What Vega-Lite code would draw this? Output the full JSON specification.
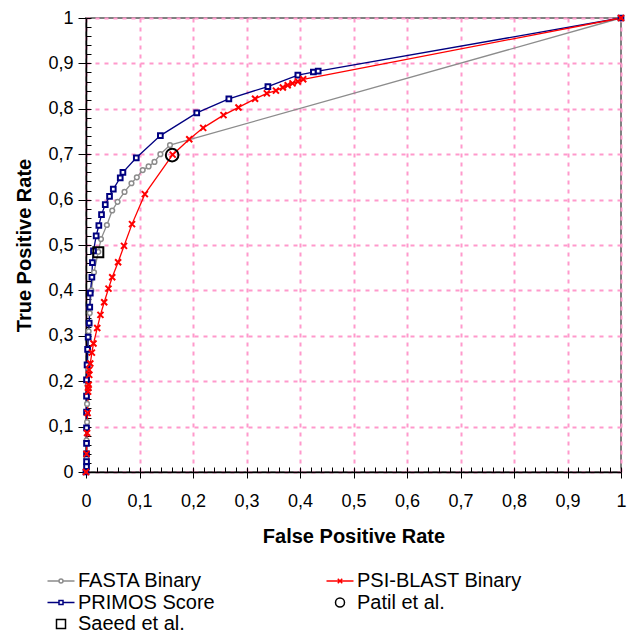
{
  "$schema": "https://vega.github.io/schema/vega-lite/v6.json",
  "width": 535,
  "height": 454,
  "autosize": "none",
  "padding": {"left": 86, "top": 18, "right": 20, "bottom": 162},
  "config": {"view": {"stroke": "#808080", "strokeWidth": 2}, "font": "Liberation Sans"},
  "datasets": {
    "curves": [
      {"series": "FASTA Binary", "ord": 0, "fpr": 0, "tpr": 0},
      {"series": "FASTA Binary", "ord": 1, "fpr": 0.001, "tpr": 0.03},
      {"series": "FASTA Binary", "ord": 2, "fpr": 0.001, "tpr": 0.07},
      {"series": "FASTA Binary", "ord": 3, "fpr": 0.002, "tpr": 0.11},
      {"series": "FASTA Binary", "ord": 4, "fpr": 0.002, "tpr": 0.15},
      {"series": "FASTA Binary", "ord": 5, "fpr": 0.003, "tpr": 0.19},
      {"series": "FASTA Binary", "ord": 6, "fpr": 0.003, "tpr": 0.23},
      {"series": "FASTA Binary", "ord": 7, "fpr": 0.004, "tpr": 0.27},
      {"series": "FASTA Binary", "ord": 8, "fpr": 0.005, "tpr": 0.31},
      {"series": "FASTA Binary", "ord": 9, "fpr": 0.007, "tpr": 0.35},
      {"series": "FASTA Binary", "ord": 10, "fpr": 0.010, "tpr": 0.40},
      {"series": "FASTA Binary", "ord": 11, "fpr": 0.015, "tpr": 0.44},
      {"series": "FASTA Binary", "ord": 12, "fpr": 0.023, "tpr": 0.485},
      {"series": "FASTA Binary", "ord": 13, "fpr": 0.028, "tpr": 0.513},
      {"series": "FASTA Binary", "ord": 14, "fpr": 0.039, "tpr": 0.544},
      {"series": "FASTA Binary", "ord": 15, "fpr": 0.049, "tpr": 0.576},
      {"series": "FASTA Binary", "ord": 16, "fpr": 0.059, "tpr": 0.595},
      {"series": "FASTA Binary", "ord": 17, "fpr": 0.072, "tpr": 0.617},
      {"series": "FASTA Binary", "ord": 18, "fpr": 0.085, "tpr": 0.636},
      {"series": "FASTA Binary", "ord": 19, "fpr": 0.095, "tpr": 0.649},
      {"series": "FASTA Binary", "ord": 20, "fpr": 0.106, "tpr": 0.665},
      {"series": "FASTA Binary", "ord": 21, "fpr": 0.117, "tpr": 0.673},
      {"series": "FASTA Binary", "ord": 22, "fpr": 0.128, "tpr": 0.683},
      {"series": "FASTA Binary", "ord": 23, "fpr": 0.139, "tpr": 0.700},
      {"series": "FASTA Binary", "ord": 24, "fpr": 0.157, "tpr": 0.720},
      {"series": "FASTA Binary", "ord": 25, "fpr": 1, "tpr": 1},
      {"series": "PRIMOS Score", "ord": 0, "fpr": 0, "tpr": 0},
      {"series": "PRIMOS Score", "ord": 1, "fpr": 0.001, "tpr": 0.012},
      {"series": "PRIMOS Score", "ord": 2, "fpr": 0.001, "tpr": 0.023},
      {"series": "PRIMOS Score", "ord": 3, "fpr": 0.001, "tpr": 0.040},
      {"series": "PRIMOS Score", "ord": 4, "fpr": 0.001, "tpr": 0.063},
      {"series": "PRIMOS Score", "ord": 5, "fpr": 0.001, "tpr": 0.097},
      {"series": "PRIMOS Score", "ord": 6, "fpr": 0.001, "tpr": 0.132},
      {"series": "PRIMOS Score", "ord": 7, "fpr": 0.001, "tpr": 0.167},
      {"series": "PRIMOS Score", "ord": 8, "fpr": 0.001, "tpr": 0.203},
      {"series": "PRIMOS Score", "ord": 9, "fpr": 0.002, "tpr": 0.236},
      {"series": "PRIMOS Score", "ord": 10, "fpr": 0.003, "tpr": 0.270},
      {"series": "PRIMOS Score", "ord": 11, "fpr": 0.004, "tpr": 0.297},
      {"series": "PRIMOS Score", "ord": 12, "fpr": 0.006, "tpr": 0.328},
      {"series": "PRIMOS Score", "ord": 13, "fpr": 0.007, "tpr": 0.363},
      {"series": "PRIMOS Score", "ord": 14, "fpr": 0.008, "tpr": 0.394},
      {"series": "PRIMOS Score", "ord": 15, "fpr": 0.011, "tpr": 0.429},
      {"series": "PRIMOS Score", "ord": 16, "fpr": 0.012, "tpr": 0.461},
      {"series": "PRIMOS Score", "ord": 17, "fpr": 0.014, "tpr": 0.487},
      {"series": "PRIMOS Score", "ord": 18, "fpr": 0.019, "tpr": 0.520},
      {"series": "PRIMOS Score", "ord": 19, "fpr": 0.024, "tpr": 0.543},
      {"series": "PRIMOS Score", "ord": 20, "fpr": 0.029, "tpr": 0.567},
      {"series": "PRIMOS Score", "ord": 21, "fpr": 0.036, "tpr": 0.589},
      {"series": "PRIMOS Score", "ord": 22, "fpr": 0.044, "tpr": 0.607},
      {"series": "PRIMOS Score", "ord": 23, "fpr": 0.051, "tpr": 0.623},
      {"series": "PRIMOS Score", "ord": 24, "fpr": 0.064, "tpr": 0.648},
      {"series": "PRIMOS Score", "ord": 25, "fpr": 0.069, "tpr": 0.660},
      {"series": "PRIMOS Score", "ord": 26, "fpr": 0.094, "tpr": 0.692},
      {"series": "PRIMOS Score", "ord": 27, "fpr": 0.139, "tpr": 0.741},
      {"series": "PRIMOS Score", "ord": 28, "fpr": 0.207, "tpr": 0.791},
      {"series": "PRIMOS Score", "ord": 29, "fpr": 0.267, "tpr": 0.822},
      {"series": "PRIMOS Score", "ord": 30, "fpr": 0.340, "tpr": 0.849},
      {"series": "PRIMOS Score", "ord": 31, "fpr": 0.396, "tpr": 0.874},
      {"series": "PRIMOS Score", "ord": 32, "fpr": 0.425, "tpr": 0.881},
      {"series": "PRIMOS Score", "ord": 33, "fpr": 0.434, "tpr": 0.883},
      {"series": "PRIMOS Score", "ord": 34, "fpr": 1, "tpr": 1},
      {"series": "PSI-BLAST Binary", "ord": 0, "fpr": 0, "tpr": 0},
      {"series": "PSI-BLAST Binary", "ord": 1, "fpr": 0.001, "tpr": 0.04},
      {"series": "PSI-BLAST Binary", "ord": 2, "fpr": 0.002, "tpr": 0.086},
      {"series": "PSI-BLAST Binary", "ord": 3, "fpr": 0.003, "tpr": 0.13},
      {"series": "PSI-BLAST Binary", "ord": 4, "fpr": 0.004, "tpr": 0.177},
      {"series": "PSI-BLAST Binary", "ord": 5, "fpr": 0.004, "tpr": 0.185},
      {"series": "PSI-BLAST Binary", "ord": 6, "fpr": 0.005, "tpr": 0.192},
      {"series": "PSI-BLAST Binary", "ord": 7, "fpr": 0.006, "tpr": 0.214},
      {"series": "PSI-BLAST Binary", "ord": 8, "fpr": 0.006, "tpr": 0.225},
      {"series": "PSI-BLAST Binary", "ord": 9, "fpr": 0.008, "tpr": 0.239},
      {"series": "PSI-BLAST Binary", "ord": 10, "fpr": 0.011, "tpr": 0.263},
      {"series": "PSI-BLAST Binary", "ord": 11, "fpr": 0.014, "tpr": 0.283},
      {"series": "PSI-BLAST Binary", "ord": 12, "fpr": 0.021, "tpr": 0.317},
      {"series": "PSI-BLAST Binary", "ord": 13, "fpr": 0.027, "tpr": 0.346},
      {"series": "PSI-BLAST Binary", "ord": 14, "fpr": 0.034, "tpr": 0.374},
      {"series": "PSI-BLAST Binary", "ord": 15, "fpr": 0.042, "tpr": 0.404},
      {"series": "PSI-BLAST Binary", "ord": 16, "fpr": 0.049, "tpr": 0.429},
      {"series": "PSI-BLAST Binary", "ord": 17, "fpr": 0.060, "tpr": 0.462},
      {"series": "PSI-BLAST Binary", "ord": 18, "fpr": 0.071, "tpr": 0.498},
      {"series": "PSI-BLAST Binary", "ord": 19, "fpr": 0.086, "tpr": 0.546},
      {"series": "PSI-BLAST Binary", "ord": 20, "fpr": 0.110, "tpr": 0.612},
      {"series": "PSI-BLAST Binary", "ord": 21, "fpr": 0.162, "tpr": 0.699},
      {"series": "PSI-BLAST Binary", "ord": 22, "fpr": 0.193, "tpr": 0.733},
      {"series": "PSI-BLAST Binary", "ord": 23, "fpr": 0.219, "tpr": 0.758},
      {"series": "PSI-BLAST Binary", "ord": 24, "fpr": 0.257, "tpr": 0.786},
      {"series": "PSI-BLAST Binary", "ord": 25, "fpr": 0.285, "tpr": 0.803},
      {"series": "PSI-BLAST Binary", "ord": 26, "fpr": 0.316, "tpr": 0.822},
      {"series": "PSI-BLAST Binary", "ord": 27, "fpr": 0.338, "tpr": 0.834},
      {"series": "PSI-BLAST Binary", "ord": 28, "fpr": 0.355, "tpr": 0.840},
      {"series": "PSI-BLAST Binary", "ord": 29, "fpr": 0.368, "tpr": 0.847},
      {"series": "PSI-BLAST Binary", "ord": 30, "fpr": 0.377, "tpr": 0.852},
      {"series": "PSI-BLAST Binary", "ord": 31, "fpr": 0.386, "tpr": 0.856},
      {"series": "PSI-BLAST Binary", "ord": 32, "fpr": 0.396, "tpr": 0.860},
      {"series": "PSI-BLAST Binary", "ord": 33, "fpr": 0.406, "tpr": 0.865},
      {"series": "PSI-BLAST Binary", "ord": 34, "fpr": 1, "tpr": 1}
    ],
    "refs": [
      {"series": "Patil et al.", "fpr": 0.161, "tpr": 0.698},
      {"series": "Saeed et al.", "fpr": 0.023, "tpr": 0.484}
    ]
  },
  "resolve": {"axis": {"x": "independent", "y": "independent"}},
  "layer": [
    {
      "data": {"name": "curves"},
      "transform": [{"filter": "datum.series == 'FASTA Binary'"}],
      "mark": {"type": "line", "strokeWidth": 1.3, "stroke": "#8c8c8c"},
      "encoding": {
        "x": {
          "field": "fpr", "type": "quantitative",
          "scale": {"domain": [0, 1], "nice": false, "zero": false},
          "axis": {
            "values": [0, 0.1, 0.2, 0.3, 0.4, 0.5, 0.6, 0.7, 0.8, 0.9, 1],
            "format": "~g", "labelExpr": "replace(datum.label, '.', ',')",
            "title": "False Positive Rate", "titleFontSize": 20, "titleFontWeight": "bold", "titleColor": "black", "titleFont": "Liberation Sans", "titlePadding": 16,
            "labelFontSize": 18, "labelColor": "black", "labelFont": "Liberation Sans", "labelPadding": 14, "labelFlush": false, "labelOverlap": false,
            "tickSize": 6, "tickColor": "black", "tickWidth": 1,
            "domainColor": "black", "domainWidth": 1.5,
            "grid": true, "gridColor": "#FF99CC", "gridDash": [4, 5], "gridWidth": 2
          }
        },
        "y": {
          "field": "tpr", "type": "quantitative",
          "scale": {"domain": [0, 1], "nice": false, "zero": false},
          "axis": {
            "values": [0, 0.1, 0.2, 0.3, 0.4, 0.5, 0.6, 0.7, 0.8, 0.9, 1],
            "format": "~g", "labelExpr": "replace(datum.label, '.', ',')",
            "title": "True Positive Rate", "titleFontSize": 20, "titleFontWeight": "bold", "titleColor": "black", "titleFont": "Liberation Sans", "titlePadding": 13,
            "labelFontSize": 18, "labelColor": "black", "labelFont": "Liberation Sans", "labelPadding": 5, "labelFlush": false, "labelOverlap": false,
            "tickSize": 8, "tickColor": "black", "tickWidth": 1,
            "domainColor": "black", "domainWidth": 1.5,
            "grid": true, "gridColor": "#FF99CC", "gridDash": [4, 5], "gridWidth": 2
          }
        },
        "order": {"field": "ord", "type": "quantitative"}
      }
    },
    {
      "data": {"name": "curves"},
      "transform": [{"filter": "datum.series == 'PRIMOS Score'"}],
      "mark": {"type": "line", "strokeWidth": 1.3, "stroke": "#000080"},
      "encoding": {
        "x": {"field": "fpr", "type": "quantitative", "axis": null},
        "y": {"field": "tpr", "type": "quantitative", "axis": null},
        "order": {"field": "ord", "type": "quantitative"}
      }
    },
    {
      "data": {"name": "curves"},
      "transform": [{"filter": "datum.series == 'PSI-BLAST Binary'"}],
      "mark": {"type": "line", "strokeWidth": 1.3, "stroke": "#FF0000"},
      "encoding": {
        "x": {"field": "fpr", "type": "quantitative", "axis": null},
        "y": {"field": "tpr", "type": "quantitative", "axis": null},
        "order": {"field": "ord", "type": "quantitative"}
      }
    },
    {
      "data": {"name": "curves"},
      "transform": [{"filter": "datum.series == 'FASTA Binary'"}],
      "mark": {"type": "point", "shape": "circle", "filled": true, "fill": "white", "stroke": "#8c8c8c", "strokeWidth": 1.5, "size": 22, "opacity": 1},
      "encoding": {
        "x": {"field": "fpr", "type": "quantitative", "axis": null},
        "y": {"field": "tpr", "type": "quantitative", "axis": null}
      }
    },
    {
      "data": {"name": "curves"},
      "transform": [{"filter": "datum.series == 'PRIMOS Score'"}],
      "mark": {"type": "point", "shape": "square", "filled": true, "fill": "white", "stroke": "#000080", "strokeWidth": 2, "size": 22, "opacity": 1},
      "encoding": {
        "x": {"field": "fpr", "type": "quantitative", "axis": null},
        "y": {"field": "tpr", "type": "quantitative", "axis": null}
      }
    },
    {
      "data": {"name": "curves"},
      "transform": [{"filter": "datum.series == 'PSI-BLAST Binary'"}],
      "mark": {"type": "point", "shape": "M-1,-1L1,1M-1,1L1,-1", "filled": false, "stroke": "#FF0000", "strokeWidth": 2, "size": 36, "opacity": 1},
      "encoding": {
        "x": {"field": "fpr", "type": "quantitative", "axis": null},
        "y": {"field": "tpr", "type": "quantitative", "axis": null}
      }
    },
    {
      "data": {"name": "refs"},
      "transform": [{"filter": "datum.series == 'Patil et al.'"}],
      "mark": {"type": "point", "shape": "circle", "filled": false, "stroke": "#000000", "strokeWidth": 2, "size": 160, "opacity": 1},
      "encoding": {
        "x": {
          "field": "fpr", "type": "quantitative",
          "axis": {
            "orient": "bottom", "title": null, "labels": false, "domain": false, "grid": false,
            "values": [0, 0.02, 0.04, 0.06, 0.08, 0.1, 0.12, 0.14, 0.16, 0.18, 0.2, 0.22, 0.24, 0.26, 0.28, 0.3, 0.32, 0.34, 0.36, 0.38, 0.4, 0.42, 0.44, 0.46, 0.48, 0.5, 0.52, 0.54, 0.56, 0.58, 0.6, 0.62, 0.64, 0.66, 0.68, 0.7, 0.72, 0.74, 0.76, 0.78, 0.8, 0.82, 0.84, 0.86, 0.88, 0.9, 0.92, 0.94, 0.96, 0.98, 1],
            "tickSize": -5, "tickColor": "black", "tickWidth": 1
          }
        },
        "y": {
          "field": "tpr", "type": "quantitative",
          "axis": {
            "orient": "left", "title": null, "labels": false, "domain": false, "grid": false,
            "values": [0, 0.02, 0.04, 0.06, 0.08, 0.1, 0.12, 0.14, 0.16, 0.18, 0.2, 0.22, 0.24, 0.26, 0.28, 0.3, 0.32, 0.34, 0.36, 0.38, 0.4, 0.42, 0.44, 0.46, 0.48, 0.5, 0.52, 0.54, 0.56, 0.58, 0.6, 0.62, 0.64, 0.66, 0.68, 0.7, 0.72, 0.74, 0.76, 0.78, 0.8, 0.82, 0.84, 0.86, 0.88, 0.9, 0.92, 0.94, 0.96, 0.98, 1],
            "tickSize": -5, "tickColor": "black", "tickWidth": 1
          }
        }
      }
    },
    {
      "data": {"name": "refs"},
      "transform": [{"filter": "datum.series == 'Saeed et al.'"}],
      "mark": {"type": "point", "shape": "square", "filled": false, "stroke": "#000000", "strokeWidth": 2, "size": 100, "opacity": 1},
      "encoding": {
        "x": {"field": "fpr", "type": "quantitative", "axis": null},
        "y": {"field": "tpr", "type": "quantitative", "axis": null}
      }
    },
    {
      "data": {"name": "curves"},
      "transform": [{"filter": "datum.fpr > 5"}],
      "mark": {"type": "point", "filled": false, "strokeWidth": 1.5, "opacity": 1},
      "encoding": {
        "x": {"field": "fpr", "type": "quantitative", "axis": null},
        "y": {"field": "tpr", "type": "quantitative", "axis": null},
        "color": {
          "field": "series", "type": "nominal",
          "scale": {"domain": ["FASTA Binary", "PRIMOS Score", "Saeed et al.", "PSI-BLAST Binary", "Patil et al."], "range": ["#8c8c8c", "#000080", "#000000", "#FF0000", "#000000"]},
          "legend": {
            "title": null, "orient": "none", "legendX": -35, "legendY": 553, "columns": 2,
            "symbolSize": 100, "symbolStrokeWidth": 1.5, "symbolOpacity": 1,
            "labelFontSize": 20, "labelFont": "Liberation Sans", "labelColor": "black", "labelOffset": 7, "labelLimit": 300,
            "rowPadding": 1.5, "columnPadding": 108, "padding": 0
          }
        },
        "shape": {
          "field": "series", "type": "nominal",
          "scale": {
            "domain": ["FASTA Binary", "PRIMOS Score", "Saeed et al.", "PSI-BLAST Binary", "Patil et al."],
            "range": [
              "M-2.7,0L-0.4,0M0.4,0L2.7,0M-0.4,0A0.4,0.4 0 1,1 0.4,0A0.4,0.4 0 1,1 -0.4,0",
              "M-2.7,0L-0.4,0M0.4,0L2.7,0M-0.4,-0.4L0.4,-0.4L0.4,0.4L-0.4,0.4Z",
              "M-0.9,-0.9L0.9,-0.9L0.9,0.9L-0.9,0.9Z",
              "M-2.7,0L2.7,0M-0.45,-0.45L0.45,0.45M-0.45,0.45L0.45,-0.45",
              "M-0.9,0A0.9,0.9 0 1,1 0.9,0A0.9,0.9 0 1,1 -0.9,0"
            ]
          },
          "legend": {
            "title": null, "orient": "none", "legendX": -35, "legendY": 553, "columns": 2,
            "symbolSize": 100, "symbolStrokeWidth": 1.5, "symbolOpacity": 1,
            "labelFontSize": 20, "labelFont": "Liberation Sans", "labelColor": "black", "labelOffset": 7, "labelLimit": 300,
            "rowPadding": 1.5, "columnPadding": 108, "padding": 0
          }
        }
      }
    }
  ]
}
